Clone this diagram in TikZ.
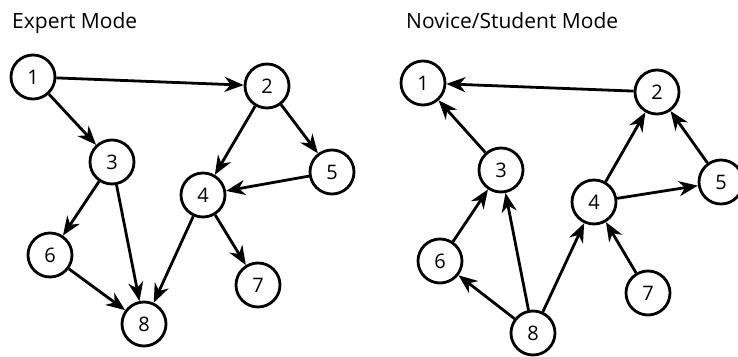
\documentclass[tikz,border=0pt]{standalone}
\usepackage{fontspec}
\setmainfont{Open Sans}
\usetikzlibrary{arrows.meta}

\tikzset{
  vertex/.style={circle, draw, line width=2.8pt, minimum size=44pt, inner sep=0pt, font=\fontsize{20}{22}\selectfont},
  edge/.style={line width=2.8pt, -{Stealth[length=19pt,width=15pt,inset=6pt]}},
  title/.style={anchor=base west, inner sep=0pt, font=\fontsize{21}{24}\selectfont}
}

\begin{document}
\begin{tikzpicture}[x=1pt,y=-1pt]
\useasboundingbox (0,0) rectangle (738,356);

% expert ordering
\node [title] (expert) at (12,28) {Expert Mode};
\node [vertex] (e1) at (33,77) {1};
\node [vertex] (e2) at (267,86) {2};
\node [vertex] (e3) at (112,162) {3};
\node [vertex] (e4) at (203,195) {4};
\node [vertex] (e5) at (332,172) {5};
\node [vertex] (e6) at (50,255) {6};
\node [vertex] (e7) at (258,285) {7};
\node [vertex] (e8) at (144,324) {8};

\draw [edge] (e1) -- (e2);
\draw [edge] (e1) -- (e3);
\draw [edge] (e2) -- (e4);
\draw [edge] (e2) -- (e5);
\draw [edge] (e5) -- (e4);
\draw [edge] (e3) -- (e6);
\draw [edge] (e3) -- (e8);
\draw [edge] (e6) -- (e8);
\draw [edge] (e4) -- (e8);
\draw [edge] (e4) -- (e7);

% novice ordering, edges reversed
\node [title] (novice) at (406,28) {Novice/Student Mode};
\node [vertex] (n1) at (423,83) {1};
\node [vertex] (n2) at (657,92) {2};
\node [vertex] (n3) at (501,170) {3};
\node [vertex] (n4) at (594,202) {4};
\node [vertex] (n5) at (721,182) {5};
\node [vertex] (n6) at (440,261) {6};
\node [vertex] (n7) at (648,293) {7};
\node [vertex] (n8) at (533,333) {8};

\draw [edge] (n2) -- (n1);
\draw [edge] (n3) -- (n1);
\draw [edge] (n4) -- (n2);
\draw [edge] (n5) -- (n2);
\draw [edge] (n4) -- (n5);
\draw [edge] (n6) -- (n3);
\draw [edge] (n8) -- (n3);
\draw [edge] (n8) -- (n6);
\draw [edge] (n8) -- (n4);
\draw [edge] (n7) -- (n4);
\end{tikzpicture}
\end{document}
